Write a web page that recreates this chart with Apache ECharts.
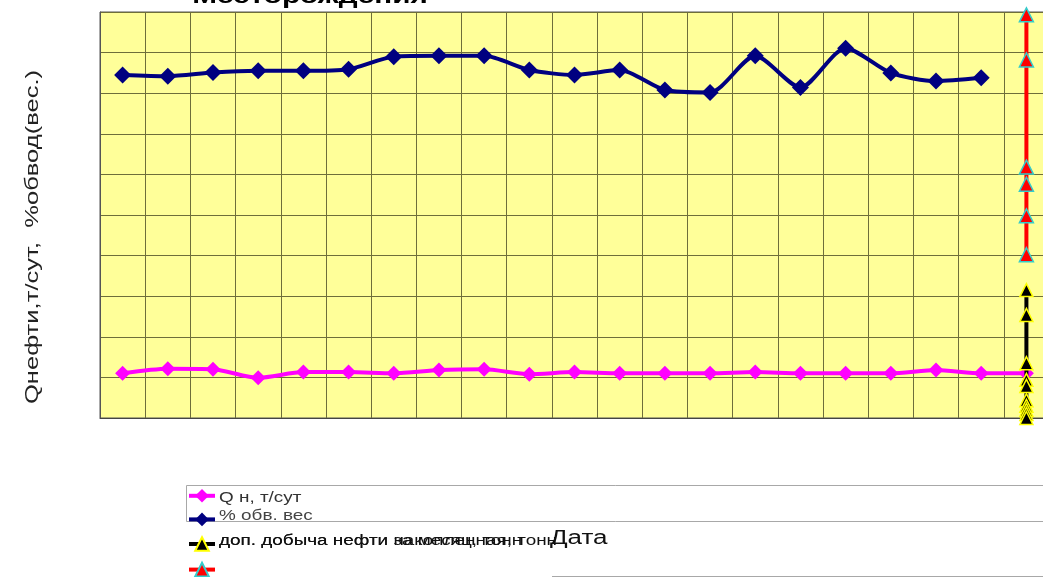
<!DOCTYPE html>
<html>
<head>
<meta charset="utf-8">
<script src="https://cdn.jsdelivr.net/npm/echarts@6/dist/echarts.min.js"></script>
<style>
  html, body { margin: 0; padding: 0; background: #ffffff; }
  #chart { width: 1043px; height: 577px; }
</style>
</head>
<body>
<div id="chart"></div>
<script>
// Monthly periods along the date axis (labels are not printed on the axis)
const categories = ['1', '2', '3', '4', '5', '6', '7', '8', '9', '10', '11',
                    '12', '13', '14', '15', '16', '17', '18', '19', '20', '21'];

// Oil rate, t/day
const oilRate = [11.0, 12.1, 12.0, 9.9, 11.3, 11.3, 11.0, 11.8, 12.0, 10.8, 11.3,
                 11.0, 11.0, 11.0, 11.3, 11.0, 11.0, 11.0, 11.8, 11.0, 11.0];

// Water cut, % by weight
const waterCut = [84.5, 84.2, 85.1, 85.5, 85.5, 85.9, 89.0, 89.2, 89.2, 85.7,
                  84.5, 85.7, 80.8, 80.2, 89.2, 81.4, 91.1, 85.0, 83.0, 83.8];

// Extra oil production for the last period
const extraPeriodIndex = 20;
const extraMonthly = [31.5, 25.4, 13.5, 9.4, 7.9, 4.4, 3.0, 2.0, 1.0, 0];
const extraCumulative = [99.3, 88.2, 61.8, 57.6, 49.8, 40.2];

const seriesNames = ['Q н, т/сут', '% обв. вес',
                     'доп. добыча нефти за месяц, тонн',
                     'доп. добыча нефти накопленная, тонн'];

const titleText = 'Месторождения';
const yTitleText = 'Qнефти,т/сут,  %обвод(вес.)';
const xTitleText = 'Дата';

const FONT = '"Liberation Sans", Arial, sans-serif';
const SX = 1.35; // horizontal text stretch

const chart = echarts.init(document.getElementById('chart'), null, { renderer: 'canvas' });

function txt(x, y, text, font, fill, align, extra) {
  return Object.assign({
    type: 'text', x: x, y: y, scaleX: SX, z: 10,
    style: {
      text: text, font: font, fill: fill,
      align: align, textAlign: align,
      verticalAlign: 'middle', textVerticalAlign: 'middle'
    }
  }, extra || {});
}

const option = {
  animation: false,
  backgroundColor: '#ffffff',
  grid: {
    left: 100, top: 12, width: 949, height: 406,
    containLabel: false, outerBoundsMode: 'none',
    show: true, backgroundColor: '#FFFF99',
    borderColor: '#555555', borderWidth: 1
  },
  xAxis: {
    type: 'category',
    data: categories,
    boundaryGap: true,
    axisLine: { show: true, lineStyle: { color: '#444444', width: 1 } },
    axisTick: { show: false },
    axisLabel: { show: false },
    splitLine: { show: true, lineStyle: { color: '#6e6e3a', width: 1 } }
  },
  yAxis: {
    type: 'value',
    min: 0, max: 100, interval: 10,
    axisLine: { show: true, lineStyle: { color: '#555555' } },
    axisTick: { show: false },
    axisLabel: { show: false },
    splitLine: { show: true, lineStyle: { color: '#6e6e3a', width: 1 } }
  },
  legend: {
    orient: 'vertical',
    left: 187, top: 489, height: 120,
    padding: 0,
    itemWidth: 26, itemHeight: 17, itemGap: 10,
    formatter: function () { return ''; },
    textStyle: { fontSize: 12, lineHeight: 14 },
    lineStyle: { width: 4 },
    selectedMode: false,
    data: seriesNames
  },
  series: [
    {
      name: seriesNames[0], type: 'line', data: oilRate,
      smooth: 0.25, symbol: 'diamond', symbolSize: 15,
      lineStyle: { color: '#FF00FF', width: 4 },
      itemStyle: { color: '#FF00FF' }, z: 2
    },
    {
      name: seriesNames[1], type: 'line', data: waterCut,
      smooth: 0.25, symbol: 'diamond', symbolSize: 17,
      lineStyle: { color: '#000080', width: 4 },
      itemStyle: { color: '#000080' }, z: 3
    },
    {
      name: seriesNames[2], type: 'line', clip: false,
      data: extraMonthly.map(function (v) { return [extraPeriodIndex, v]; }),
      symbol: 'triangle', symbolSize: 13,
      lineStyle: { color: '#000000', width: 4 },
      itemStyle: { color: '#000000', borderColor: '#FFFF00', borderWidth: 1.5 }, z: 4
    },
    {
      name: seriesNames[3], type: 'line', clip: false,
      data: extraCumulative.map(function (v) { return [extraPeriodIndex, v]; }),
      symbol: 'triangle', symbolSize: 14,
      lineStyle: { color: '#FF0000', width: 4 },
      itemStyle: { color: '#FF0000', borderColor: '#33CCCC', borderWidth: 1.5 }, z: 5
    }
  ],
  graphic: [
    // legend frame and lower frame edge
    { type: 'rect', z: 1, shape: { x: 186.5, y: 485.5, width: 900, height: 36 },
      style: { fill: 'none', stroke: '#a8a8a8', lineWidth: 1 } },
    { type: 'line', z: 1, shape: { x1: 552, y1: 576.5, x2: 1043, y2: 576.5 },
      style: { stroke: '#a8a8a8', lineWidth: 1 } },
    // chart title
    txt(310, -3, titleText, 'bold 22px ' + FONT, '#000000', 'center'),
    // value axis title
    txt(33, 237, yTitleText, '18px ' + FONT, '#222222', 'center',
        { rotation: Math.PI / 2, scaleX: 1.42 }),
    // date axis title
    txt(550, 538, xTitleText, '20px ' + FONT, '#111111', 'left', { scaleX: 1.3 }),
    // legend labels
    txt(219, 498, seriesNames[0], '14px ' + FONT, '#333333', 'left'),
    txt(219, 516, seriesNames[1], '14px ' + FONT, '#444444', 'left'),
    txt(219, 541, seriesNames[2], '14px ' + FONT, '#111111', 'left'),
    txt(219, 541, seriesNames[3], '14px ' + FONT, '#111111', 'left')
  ]
};

chart.setOption(option);
</script>
</body>
</html>
